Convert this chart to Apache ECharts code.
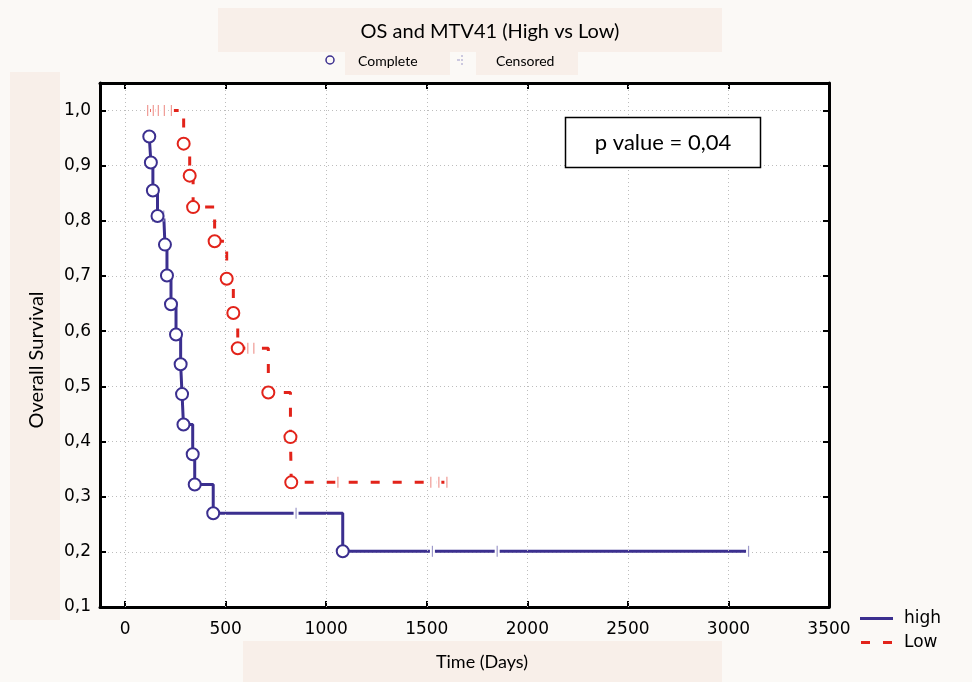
<!DOCTYPE html>
<html>
<head>
<meta charset="utf-8">
<script src="https://cdn.jsdelivr.net/npm/echarts@6/dist/echarts.min.js"></script>
<style>html,body{margin:0;padding:0;background:#fbf9f6;}#c{width:972px;height:682px;}</style>
</head>
<body>
<div id="c"></div>
<script>
// ---- data ----
const xTicks = [0, 500, 1000, 1500, 2000, 2500, 3000, 3500];
const yTicks = [0.1, 0.2, 0.3, 0.4, 0.5, 0.6, 0.7, 0.8, 0.9, 1.0];

const highCompleteTime = [120, 128, 138, 161, 198, 208, 228, 253, 276, 283, 290, 336, 346, 438, 1082];
const highCompleteSurv = [0.953, 0.906, 0.855, 0.809, 0.757, 0.701, 0.649, 0.594, 0.540, 0.486, 0.431, 0.377, 0.322, 0.270, 0.201];
const highCensorTime = [192, 850, 1528, 1850, 3100];
const highCensorSurv = [0.809, 0.270, 0.201, 0.201, 0.201];

const lowCompleteTime = [291, 321, 338, 445, 505, 538, 560, 712, 822, 826];
const lowCompleteSurv = [0.940, 0.882, 0.825, 0.763, 0.695, 0.633, 0.569, 0.489, 0.408, 0.326];
const lowCensorTime = [112, 140, 165, 195, 230, 610, 640, 1058, 1520, 1560, 1600];
const lowCensorSurv = [1, 1, 1, 1, 1, 0.569, 0.569, 0.326, 0.326, 0.326, 0.326];

const pText = 'p value = 0,04';

// ---- build ----
function zip(a, b) { return a.map((v, i) => [v, b[i]]); }
function merged(t1, s1, t2, s2) {
  return zip(t1, s1).concat(zip(t2, s2)).sort((p, q) => p[0] - q[0]);
}
const BLUE = '#3b2f8f', RED = '#e2231a', LBLUE = '#9d99c9', LRED = '#f09a94';
const GRID = '#bdbdbd';
const TICKFONT = 'DejaVu Sans';
const frame = { show: true, onZero: false, lineStyle: { color: '#000', width: 3 } };
const tickX = { show: true, inside: true, length: 6, customValues: xTicks, lineStyle: { color: '#000', width: 2 } };
const tickY = { show: true, inside: true, length: 6, customValues: yTicks, lineStyle: { color: '#000', width: 2 } };
const fmtY = v => v.toFixed(1).replace('.', ',');
const fmtX = v => String(Math.round(v));

function censorSeries(name, t, s, color) {
  return [
    { type: 'scatter', name: name + 'Gap', data: zip(t, s), z: 4, silent: true,
      symbol: 'rect', symbolSize: [5, 5], itemStyle: { color: '#fff', opacity: 1 } },
    { type: 'scatter', name: name + 'Tick', data: zip(t, s), z: 4, silent: true,
      symbol: 'rect', symbolSize: [1.2, 11], itemStyle: { color: color, opacity: 1 } }
  ];
}

const chart = echarts.init(document.getElementById('c'), null, { renderer: 'canvas' });
chart.setOption({
  animation: false,
  backgroundColor: '#fbf9f6',
  grid: { left: 100, top: 83, right: 143, bottom: 75, show: true, backgroundColor: '#fff', borderWidth: 0 },
  xAxis: [
    { type: 'value', position: 'bottom', min: -125, max: 3500, axisLine: frame, axisTick: tickX,
      axisLabel: { customValues: xTicks, formatter: fmtX, margin: 14, color: '#000', fontFamily: TICKFONT, fontSize: 17 },
      splitLine: { show: false } },
    { type: 'value', position: 'top', min: -125, max: 3500, axisLine: frame, axisTick: tickX,
      axisLabel: { show: false }, splitLine: { show: false } }
  ],
  yAxis: [
    { type: 'value', position: 'left', min: 0.1, max: 1.05, interval: 0.1, axisLine: frame, axisTick: tickY,
      axisLabel: { customValues: yTicks, formatter: fmtY, margin: 9, color: '#000', fontFamily: TICKFONT, fontSize: 17 },
      splitLine: { show: true, lineStyle: { type: [1, 3], color: GRID, width: 1 } } },
    { type: 'value', position: 'right', min: 0.1, max: 1.05, interval: 0.1, axisLine: frame, axisTick: tickY,
      axisLabel: { show: false }, splitLine: { show: false } }
  ],
  legend: {
    data: [
      { name: 'high', icon: 'path://M0,0h33v3h-33z' },
      { name: 'Low', icon: 'path://M0,0h9v3h-9z M22,0h9v3h-9z' }
    ],
    orient: 'vertical', left: 860, top: 610, padding: 0,
    itemWidth: 33, itemHeight: 3, itemGap: 7,
    textStyle: { fontFamily: TICKFONT, fontSize: 17, color: '#000', padding: [0, 0, 0, 6] }
  },
  series: [
    { type: 'line', name: 'gridx', data: [], z: 1, silent: true,
      markLine: { silent: true, symbol: ['none', 'none'], label: { show: false },
        lineStyle: { type: [1, 3], color: GRID, width: 1 },
        data: xTicks.slice(0, -1).map(v => ({ xAxis: v })) } },
    { type: 'line', name: 'high', data: merged(highCompleteTime, highCompleteSurv, highCensorTime, highCensorSurv),
      step: 'end', symbol: 'none', z: 3, lineStyle: { color: BLUE, width: 3 }, itemStyle: { color: BLUE } },
    { type: 'line', name: 'Low', data: merged(lowCompleteTime, lowCompleteSurv, lowCensorTime, lowCensorSurv),
      step: 'end', symbol: 'none', z: 3, lineStyle: { color: RED, width: 3, type: [9, 13] }, itemStyle: { color: RED } },
    ...censorSeries('high', highCensorTime, highCensorSurv, LBLUE),
    ...censorSeries('low', lowCensorTime, lowCensorSurv, LRED),
    { type: 'scatter', name: 'highComplete', data: zip(highCompleteTime, highCompleteSurv), z: 5,
      symbol: 'circle', symbolSize: 12, itemStyle: { color: '#fff', borderColor: BLUE, borderWidth: 2, opacity: 1 } },
    { type: 'scatter', name: 'lowComplete', data: zip(lowCompleteTime, lowCompleteSurv), z: 5,
      symbol: 'circle', symbolSize: 12, itemStyle: { color: '#fff', borderColor: RED, borderWidth: 2, opacity: 1 } }
  ],
  graphic: [
    { type: 'rect', z: 0, shape: { x: 218, y: 8, width: 504, height: 44 }, style: { fill: '#f8efe9' } },
    { type: 'rect', z: 0, shape: { x: 345, y: 51, width: 105, height: 24 }, style: { fill: '#f8efe9' } },
    { type: 'rect', z: 0, shape: { x: 476, y: 51, width: 102, height: 24 }, style: { fill: '#f8efe9' } },
    { type: 'rect', z: 0, shape: { x: 10, y: 72, width: 50, height: 548 }, style: { fill: '#f8efe9' } },
    { type: 'rect', z: 0, shape: { x: 243, y: 641, width: 479, height: 41 }, style: { fill: '#f8efe9' } },
    { type: 'text', z: 10, style: { text: 'OS and MTV41 (High vs Low)', x: 490, y: 32, align: 'center', verticalAlign: 'middle', font: '20px Lato', fill: '#000' } },
    { type: 'circle', z: 10, shape: { cx: 330, cy: 60, r: 4 }, style: { fill: 'none', stroke: BLUE, lineWidth: 1.5 } },
    { type: 'text', z: 10, style: { text: 'Complete', x: 358, y: 61, align: 'left', verticalAlign: 'middle', font: '14px Lato', fill: '#000' } },
    { type: 'polyline', z: 10, shape: { points: [[462, 55], [462, 65]] }, style: { stroke: LBLUE, lineWidth: 1, lineDash: [2, 2] } },
    { type: 'polyline', z: 10, shape: { points: [[457, 60], [460, 60]] }, style: { stroke: LBLUE, lineWidth: 1 } },
    { type: 'text', z: 10, style: { text: 'Censored', x: 496, y: 61, align: 'left', verticalAlign: 'middle', font: '14px Lato', fill: '#000' } },
    { type: 'rect', z: 10, shape: { x: 565.5, y: 117.5, width: 195, height: 50 }, style: { fill: '#fff', stroke: '#000', lineWidth: 1.5 } },
    { type: 'text', z: 11, style: { text: pText, x: 663, y: 143, align: 'center', verticalAlign: 'middle', font: '22px Lato', fill: '#000' } },
    { type: 'text', z: 10, x: 37, y: 360, rotation: Math.PI / 2, style: { text: 'Overall Survival', x: 0, y: 0, align: 'center', verticalAlign: 'middle', font: '20px Lato', fill: '#000' } },
    { type: 'text', z: 10, style: { text: 'Time (Days)', x: 482, y: 662, align: 'center', verticalAlign: 'middle', font: '18px Lato', fill: '#000' } }
  ]
});
</script>
</body>
</html>
